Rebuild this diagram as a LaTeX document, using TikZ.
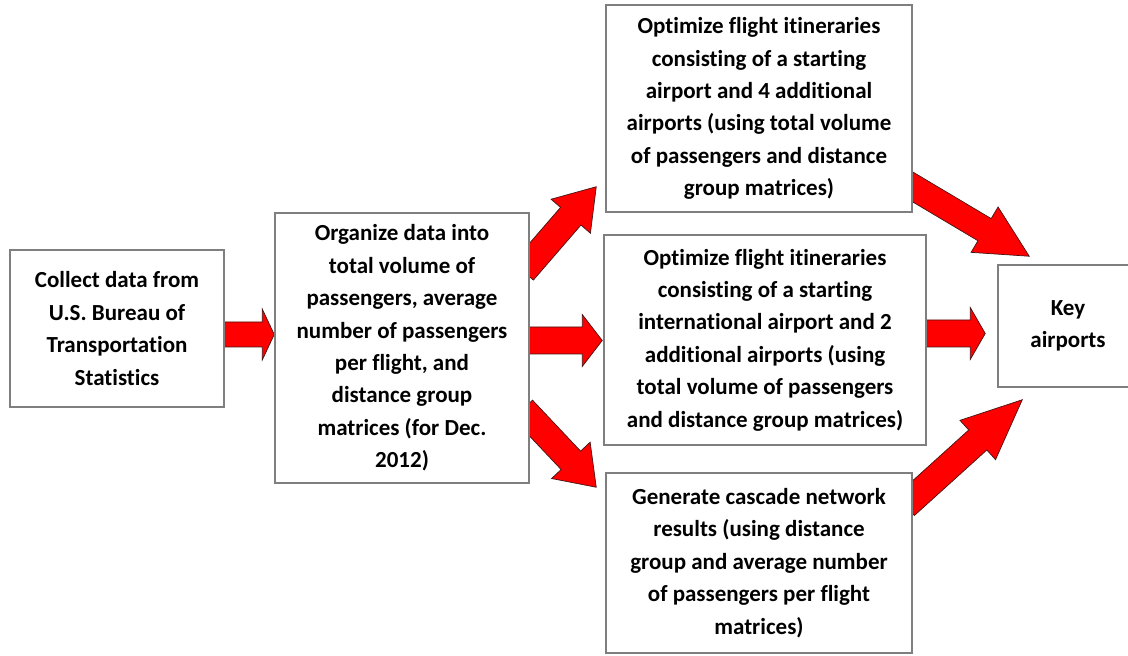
\documentclass[tikz,border=0pt]{standalone}
\usepackage{fontspec}
\setmainfont{Carlito}[Ligatures=NoCommon]
\usetikzlibrary{calc,backgrounds}
\definecolor{boxGray}{RGB}{127,127,127}
\definecolor{arrowRed}{RGB}{255,0,0}
\definecolor{arrowEdge}{RGB}{70,20,20}
\tikzset{
    block/.style={rectangle, draw=boxGray, fill=white, line width=0.75pt,
                  inner sep=0pt, align=center,
                  font=\fontsize{11.5}{16.2}\selectfont\bfseries},
    fatArrow/.style={fill=arrowRed, draw=arrowEdge, line width=0.35pt, line join=miter}
}
% block arrow: from, tip, shaft half width, head half width, head length
\newcommand{\blockArrow}[5]{%
  \coordinate (hb) at ($(#2)!#5!(#1)$);
  \draw[fatArrow] ($(#1)!#3!90:(#2)$) -- ($(hb)!#3!-90:(#1)$) -- ($(hb)!#4!-90:(#1)$)
    -- (#2) -- ($(hb)!#4!90:(#1)$) -- ($(hb)!#3!90:(#1)$) -- ($(#1)!#3!-90:(#2)$) -- cycle;
}

\begin{document}
\begin{tikzpicture}[x=0.5pt, y=-0.5pt]
  \useasboundingbox (0,0) rectangle (1128,656);

  \node [block, minimum width=107pt, minimum height=78.5pt] (col) at (117,328.5)
    {Collect data from\\U.S. Bureau of\\Transportation\\Statistics};
  \node [block, minimum width=127pt, minimum height=135pt] (org) at (402,348)
    {Organize data into\\total volume of\\passengers, average\\number of passengers\\per flight, and\\distance group\\matrices (for Dec.\\2012)};
  \node [block, minimum width=153pt, minimum height=103.5pt] (optA) at (759,108.5)
    {Optimize flight itineraries\\consisting of a starting\\airport and 4 additional\\airports (using total volume\\of passengers and distance\\group matrices)};
  \node [block, minimum width=161pt, minimum height=105pt] (optB) at (765,340)
    {Optimize flight itineraries\\consisting of a starting\\international airport and 2\\additional airports (using\\total volume of passengers\\and distance group matrices)};
  \node [block, minimum width=153pt, minimum height=90pt] (casc) at (759,563)
    {Generate cascade network\\results (using distance\\group and average number\\of passengers per flight\\matrices)};
  \node [block, minimum width=70pt, minimum height=61pt] (key) at (1068,326)
    {Key\\airports};

  \begin{scope}[on background layer]
    \coordinate (a1s) at ($(col.east)+(-5,6)$);
    \coordinate (a1e) at ($(org.west)+(0,-13.5)$);
    \coordinate (a2s) at ($(org.east)+(-5,-7.5)$);
    \coordinate (a2e) at ($(optB.west)+(-1,0.5)$);
    \coordinate (a3s) at ($(org.north east)+(-6.6,59)$);
    \coordinate (a3e) at ($(optA.south west)+(-9,-26)$);
    \coordinate (a4s) at ($(org.south east)+(-7,-74.4)$);
    \coordinate (a4e) at ($(casc.north west)+(-9,15)$);
    \coordinate (a5s) at ($(optA.south east)+(-8.6,-30.9)$);
    \coordinate (a5e) at ($(key.north west)+(32,-8)$);
    \coordinate (a6s) at ($(optB.east)+(-5,-6.5)$);
    \coordinate (a6e) at ($(key.west)+(-12,7.5)$);
    \coordinate (a7s) at ($(casc.east)+(-7.4,-57.5)$);
    \coordinate (a7e) at ($(key.south west)+(25,12)$);

    \blockArrow{a1s}{a1e}{6.25pt}{12.75pt}{6pt}
    \blockArrow{a2s}{a2e}{6.75pt}{13pt}{10pt}
    \blockArrow{a3s}{a3e}{6.75pt}{13pt}{19.5pt}
    \blockArrow{a4s}{a4e}{6.7pt}{13.25pt}{18.5pt}
    \blockArrow{a5s}{a5e}{6.45pt}{13.2pt}{26pt}
    \blockArrow{a6s}{a6e}{6.75pt}{13pt}{7.5pt}
    \blockArrow{a7s}{a7e}{6.75pt}{13.25pt}{30pt}
  \end{scope}
\end{tikzpicture}
\end{document}
